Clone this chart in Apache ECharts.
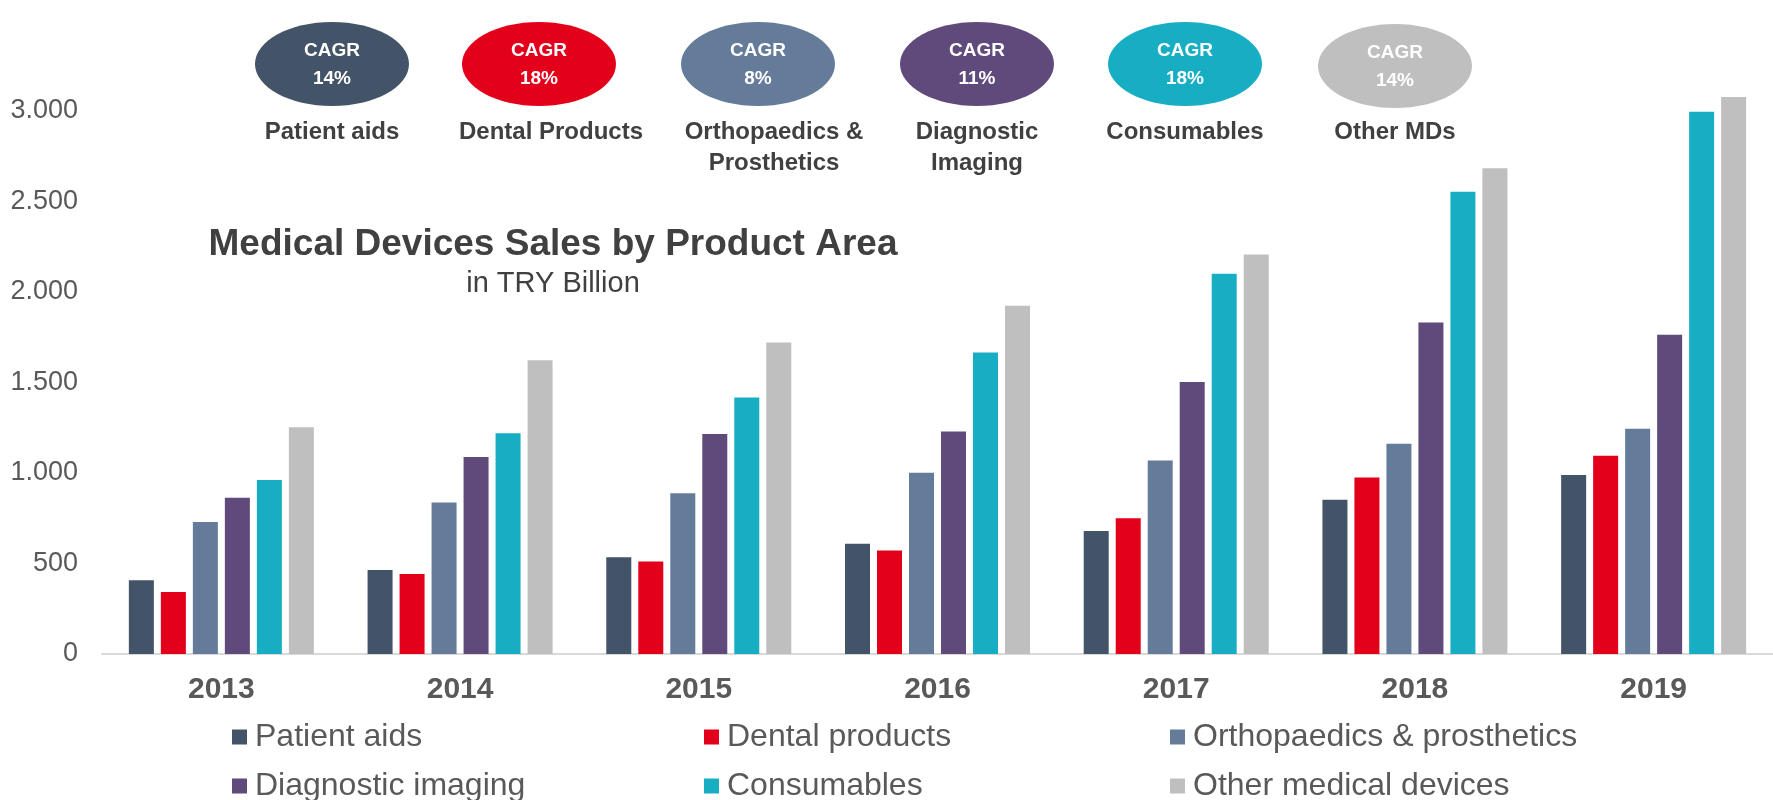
<!DOCTYPE html>
<html>
<head>
<meta charset="utf-8">
<title>Medical Devices Sales by Product Area</title>
<script src="https://cdn.jsdelivr.net/npm/echarts@6/dist/echarts.min.js"></script>
<style>
  html, body { margin: 0; padding: 0; background: #fff; }
  #chart { width: 1773px; height: 800px; }
</style>
</head>
<body>
<div id="chart"></div>
<script>
// data (TRY billion)
const years = ['2013', '2014', '2015', '2016', '2017', '2018', '2019'];
const patientAids = [407, 464, 534, 608, 679, 851, 988];
const dentalProducts = [342, 442, 511, 571, 749, 975, 1094];
const orthopaedics = [729, 836, 887, 1000, 1068, 1160, 1244];
const diagnosticImaging = [862, 1088, 1215, 1228, 1502, 1830, 1763];
const consumables = [961, 1218, 1416, 1664, 2099, 2552, 2994];
const otherDevices = [1252, 1622, 1719, 1922, 2205, 2682, 3075];
const yTicks = [0, 500, 1000, 1500, 2000, 2500, 3000];

const seriesNames = [
  'Patient aids', 'Dental products', 'Orthopaedics & prosthetics',
  'Diagnostic imaging', 'Consumables', 'Other medical devices'
];
const cagrLabels = ['Patient aids', 'Dental Products', 'Orthopaedics &\nProsthetics', 'Diagnostic\nImaging', 'Consumables', 'Other MDs'];
const cagrValues = ['14%', '18%', '8%', '11%', '18%', '14%'];

const colors = ['#435368', '#E2001A', '#647B9A', '#604A7B', '#17AEC4', '#BFBFBF'];
const FONT = "'Liberation Sans', Arial, sans-serif";

const fmtThousands = (v) => String(v).replace(/\B(?=(\d{3})+(?!\d))/g, '.');

// bubble row layout (px)
const bubbleX = [332, 539, 758, 977, 1185, 1395];
const bubbleY = [64, 64, 64, 64, 64, 66];
const bubbleLabelX = [332, 551, 774, 977, 1185, 1395];

const buildBubbles = () => {
  const els = [];
  bubbleX.forEach((x, i) => {
    els.push({
      type: 'ellipse',
      shape: { cx: x, cy: bubbleY[i], rx: 77, ry: 42 },
      style: { fill: colors[i] }
    });
    els.push({
      type: 'text',
      x: x,
      y: bubbleY[i] + 1,
      style: {
        text: 'CAGR\n' + cagrValues[i],
        fill: '#fff',
        font: 'bold 19px ' + FONT,
        lineHeight: 28,
        align: 'center', textAlign: 'center',
        verticalAlign: 'middle', textVerticalAlign: 'middle'
      }
    });
    els.push({
      type: 'text',
      x: bubbleLabelX[i],
      y: 117,
      style: {
        text: cagrLabels[i],
        fill: '#404040',
        font: 'bold 24px ' + FONT,
        lineHeight: 31,
        align: 'center', textAlign: 'center',
        verticalAlign: 'top', textVerticalAlign: 'top'
      }
    });
  });
  return els;
};

const titleElements = [
  {
    type: 'text', x: 553, y: 245,
    style: {
      text: 'Medical Devices Sales by Product Area',
      fill: '#404040', font: 'bold 37px ' + FONT,
      align: 'center', textAlign: 'center',
      verticalAlign: 'middle', textVerticalAlign: 'middle'
    }
  },
  {
    type: 'text', x: 553, y: 284,
    style: {
      text: 'in TRY Billion',
      fill: '#404040', font: '29px ' + FONT,
      align: 'center', textAlign: 'center',
      verticalAlign: 'middle', textVerticalAlign: 'middle'
    }
  }
];

const seriesData = [patientAids, dentalProducts, orthopaedics, diagnosticImaging, consumables, otherDevices];

// legend: 3 columns x 2 rows, one legend block per item
const legendCols = [232, 704, 1170];
const legendRows = [737, 786];

const legendItem = (name, i) => ({
  left: legendCols[i % 3],
  top: legendRows[Math.floor(i / 3)] - 17,
  padding: 0,
  data: [name],
  icon: 'rect',
  itemWidth: 15,
  itemHeight: 15,
  selectedMode: false,
  textStyle: {
    color: '#595959',
    fontSize: 32,
    lineHeight: 34,
    fontFamily: FONT,
    padding: [0, 0, 0, 3]
  }
});

const option = {
  animation: false,
  color: colors,
  textStyle: { fontFamily: FONT },
  grid: { left: 102, right: 0, top: 20, bottom: 146 },
  legend: seriesNames.map(legendItem),
  xAxis: {
    type: 'category',
    data: years,
    axisLine: { lineStyle: { color: '#D9D9D9', width: 2 } },
    axisTick: { show: false },
    axisLabel: {
      color: '#595959',
      fontSize: 30,
      fontWeight: 'bold',
      margin: 21
    }
  },
  yAxis: {
    type: 'value',
    min: yTicks[0],
    max: 3500,
    interval: yTicks[1] - yTicks[0],
    splitLine: { show: false },
    axisLine: { show: false },
    axisTick: { show: false },
    axisLabel: {
      color: '#595959',
      fontSize: 27,
      margin: 24,
      showMaxLabel: false,
      formatter: (v) => (v > yTicks[yTicks.length - 1] ? '' : fmtThousands(v))
    }
  },
  series: seriesNames.map((name, i) => ({
    name: name,
    type: 'bar',
    data: seriesData[i],
    barWidth: 25,
    barGap: '28%',
    itemStyle: { color: colors[i] }
  })),
  graphic: { elements: buildBubbles().concat(titleElements) }
};

const chart = echarts.init(document.getElementById('chart'));
chart.setOption(option);
</script>
</body>
</html>
